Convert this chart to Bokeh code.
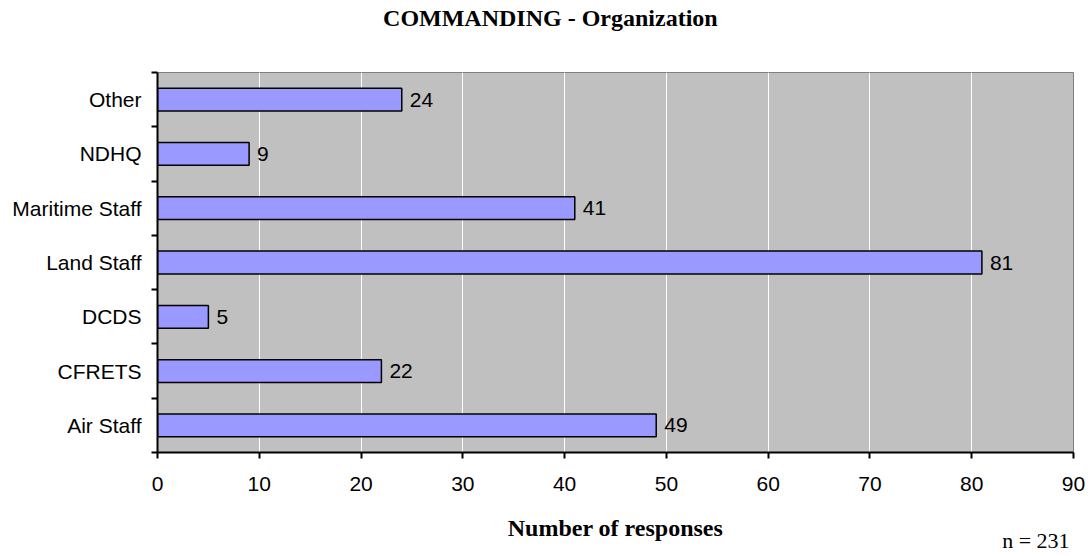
from bokeh.plotting import figure
from bokeh.models import FixedTicker, Range1d, ColumnDataSource, LabelSet, LinearAxis
from bokeh.core.properties import value
from bokeh.embed import file_html
from bokeh.resources import INLINE

categories = ["Air Staff", "CFRETS", "DCDS", "Land Staff", "Maritime Staff", "NDHQ", "Other"]
responses = [49, 22, 5, 81, 41, 9, 24]
x_ticks = [0, 10, 20, 30, 40, 50, 60, 70, 80, 90]
title_text = "COMMANDING - Organization"
x_title = "Number of responses"
note_text = "n = 231"

positions = [i + 0.5 for i in range(len(categories))]
boundaries = list(range(len(categories) + 1))

src = ColumnDataSource(dict(y=positions, right=responses,
                            label=[str(v) for v in responses]))

p = figure(frame_width=916, frame_height=380, x_range=Range1d(0, 90),
           y_range=Range1d(0, len(categories)),
           output_backend="svg", toolbar_location=None,
           min_border_left=157, min_border_right=18,
           min_border_top=72, min_border_bottom=100)

p.background_fill_color = "#C0C0C0"
p.border_fill_color = "white"
p.outline_line_color = "#808080"
p.outline_line_width = 1

p.xgrid.grid_line_color = "white"
p.xgrid.grid_line_width = 1
p.ygrid.grid_line_color = None

p.hbar(y="y", right="right", left=0, height=0.42, source=src,
       fill_color="#9999FF", line_color="black", line_width=1.5)

labels = LabelSet(x="right", y="y", text="label", source=src, x_offset=8,
                  text_baseline="middle", text_align="left",
                  text_font=value("Liberation Sans"), text_font_size=value("21px"),
                  text_color=value("black"))
p.add_layout(labels)

xa = p.xaxis[0]
xa.ticker = FixedTicker(ticks=x_ticks)
xa.major_tick_out = 6
xa.major_tick_in = 0
xa.minor_tick_out = 0
xa.minor_tick_in = 0
xa.axis_line_width = 2
xa.major_tick_line_width = 2
xa.axis_line_color = "black"
xa.major_label_text_font = "Liberation Sans"
xa.major_label_text_font_size = "21px"
xa.major_label_text_color = "black"
xa.major_label_standoff = 18
xa.axis_label = x_title
xa.axis_label_text_font = "Liberation Serif"
xa.axis_label_text_font_style = "bold"
xa.axis_label_text_font_size = "24px"
xa.axis_label_text_color = "black"
xa.axis_label_standoff = 21

ya = p.yaxis[0]
ya.ticker = FixedTicker(ticks=positions, minor_ticks=boundaries)
ya.major_tick_out = 0
ya.major_tick_in = 0
ya.minor_tick_out = 6
ya.minor_tick_in = 0
ya.minor_tick_line_width = 2
ya.axis_line_width = 2
ya.axis_line_color = "black"
ya.major_label_overrides = {pos: cat for pos, cat in zip(positions, categories)}
ya.major_label_text_font = "Liberation Sans"
ya.major_label_text_font_size = "21px"
ya.major_label_text_color = "black"
ya.major_label_standoff = 10

# Title drawn as a label-only axis above the plot (chart-centred)
title_pos = 38.6
title_axis = LinearAxis(ticker=FixedTicker(ticks=[title_pos]),
                        major_label_overrides={title_pos: title_text},
                        axis_line_color=None, major_tick_line_color=None,
                        minor_tick_line_color=None, major_label_standoff=42,
                        major_tick_out=0, major_tick_in=0,
                        major_label_text_font="Liberation Serif",
                        major_label_text_font_style="bold",
                        major_label_text_font_size="24px",
                        major_label_text_line_height=1.0,
                        major_label_text_color="black")
p.add_layout(title_axis, "above")

# "n = 231" note as a label-only axis below the main axis
note_pos = 86.3
note_axis = LinearAxis(ticker=FixedTicker(ticks=[note_pos]),
                       major_label_overrides={note_pos: note_text},
                       axis_line_color=None, major_tick_line_color=None,
                       minor_tick_line_color=None, major_label_standoff=-16,
                       major_tick_out=0, major_tick_in=0,
                       major_label_text_font="Liberation Serif",
                       major_label_text_font_size="22px",
                       major_label_text_color="black")
p.add_layout(note_axis, "below")

open("out.html", "w").write(file_html(p, INLINE))
